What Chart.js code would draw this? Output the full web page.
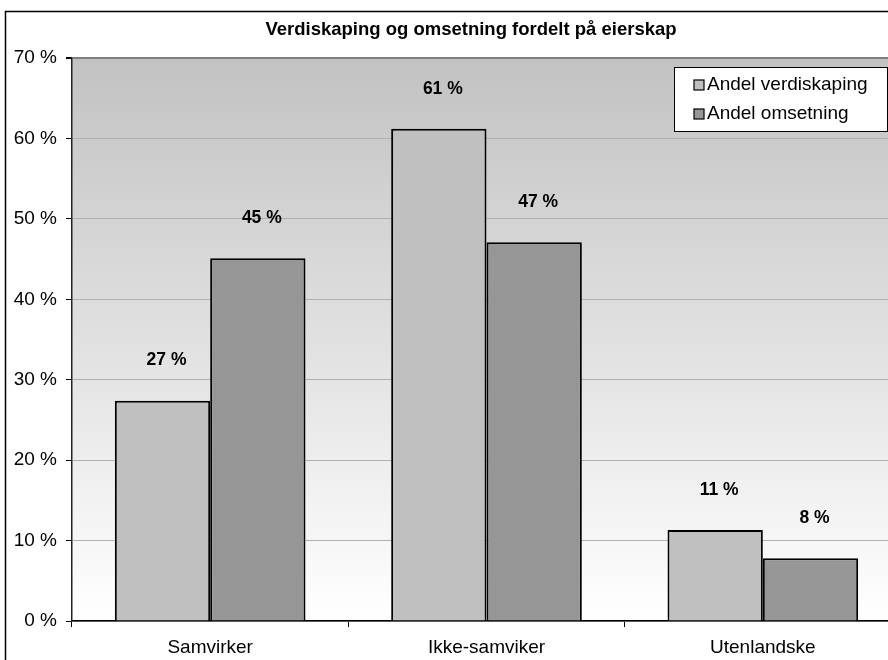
<!DOCTYPE html>
<html>
<head>
<meta charset="utf-8">
<script src="https://cdn.jsdelivr.net/npm/chart.js@4.4.1/dist/chart.umd.min.js"></script>
<style>
  html, body { margin: 0; padding: 0; background: #fff; overflow: hidden; width: 888px; height: 660px; }
  canvas { display: block; }
</style>
</head>
<body>
<canvas id="chart" width="940" height="660"></canvas>
<script>
const categories = ['Samvirker', 'Ikke-samviker', 'Utenlandske'];
const verdiskaping = [27.4, 61.2, 11.3];
const omsetning = [45.1, 47.1, 7.8];
const seriesNames = ['Andel verdiskaping', 'Andel omsetning'];
const titleText = 'Verdiskaping og omsetning fordelt på eierskap';
const yMax = 70;
const yStep = 10;

const FONT = '"Liberation Sans", Arial, sans-serif';
const lightFill = '#c0c0c0';
const darkFill = '#969696';

// frame, title and plot background
const backdrop = {
  id: 'backdrop',
  beforeDraw(chart) {
    const { ctx, chartArea: a } = chart;
    ctx.save();
    ctx.fillStyle = '#fff';
    ctx.fillRect(0, 0, chart.width, chart.height);
    ctx.strokeStyle = '#000';
    ctx.lineWidth = 1.5;
    ctx.strokeRect(5.5, 11.5, 1000, 1000);
    const g = ctx.createLinearGradient(0, a.top, 0, a.bottom);
    g.addColorStop(0, '#c2c2c2');
    g.addColorStop(1, '#ffffff');
    ctx.fillStyle = g;
    ctx.fillRect(a.left, a.top, a.right - a.left, a.bottom - a.top);
    ctx.fillStyle = '#000';
    ctx.font = 'bold 18.5px ' + FONT;
    ctx.textAlign = 'center';
    ctx.textBaseline = 'middle';
    ctx.fillText(titleText, 471, 30);
    ctx.restore();
  }
};

// value labels above the bars and the boxed legend
const overlay = {
  id: 'overlay',
  afterDatasetsDraw(chart) {
    const { ctx } = chart;
    ctx.save();
    ctx.fillStyle = '#000';
    ctx.font = 'bold 17.5px ' + FONT;
    ctx.textAlign = 'center';
    ctx.textBaseline = 'middle';
    chart.data.datasets.forEach((ds, i) => {
      chart.getDatasetMeta(i).data.forEach((bar, j) => {
        ctx.fillText(Math.round(ds.data[j]) + ' %', bar.x + 4, bar.y - 40);
      });
    });

    // legend
    ctx.fillStyle = '#fff';
    ctx.fillRect(674, 67, 213, 64);
    ctx.strokeStyle = '#000';
    ctx.lineWidth = 1;
    ctx.strokeRect(674.5, 67.5, 213, 64);
    ctx.font = '19px ' + FONT;
    ctx.textAlign = 'left';
    chart.data.datasets.forEach((ds, i) => {
      const y = 85 + i * 29;
      ctx.fillStyle = ds.backgroundColor;
      ctx.fillRect(694, y - 5, 10, 10);
      ctx.strokeStyle = '#000';
      ctx.lineWidth = 1.2;
      ctx.strokeRect(694, y - 5, 10, 10);
      ctx.fillStyle = '#000';
      ctx.fillText(ds.label, 707, y);
    });
    ctx.restore();
  }
};

new Chart(document.getElementById('chart'), {
  type: 'bar',
  data: {
    labels: categories,
    datasets: [
      { label: seriesNames[0], data: verdiskaping, backgroundColor: lightFill, borderColor: '#000', borderWidth: 2 },
      { label: seriesNames[1], data: omsetning, backgroundColor: darkFill, borderColor: '#000', borderWidth: 2 }
    ]
  },
  options: {
    responsive: false,
    animation: false,
    devicePixelRatio: 1,
    layout: { padding: { left: 0, top: 58, right: 39, bottom: 0 } },
    categoryPercentage: 0.69,
    barPercentage: 1.0,
    plugins: {
      legend: { display: false },
      title: { display: false },
      tooltip: { enabled: false }
    },
    scales: {
      x: {
        afterFit(s) { s.height = 39; },
        grid: { offset: true, drawOnChartArea: false, tickLength: 6, tickColor: '#000' },
        border: { color: '#000', width: 1.5 },
        ticks: { color: '#000', font: { family: FONT, size: 19 }, padding: 9 }
      },
      y: {
        min: 0,
        max: yMax,
        afterFit(s) { s.width = 72; },
        grid: {
          color: (c) => (c.tick && c.tick.value === yMax ? '#808080' : '#b0b0b0'),
          lineWidth: (c) => (c.tick && c.tick.value === yMax ? 2 : 1),
          tickLength: 6,
          tickColor: '#000'
        },
        border: { color: '#222', width: 1.5 },
        ticks: {
          stepSize: yStep,
          color: '#000',
          padding: 9,
          font: { family: FONT, size: 19 },
          callback: (v) => v + ' %'
        }
      }
    }
  },
  plugins: [backdrop, overlay]
});
</script>
</body>
</html>
